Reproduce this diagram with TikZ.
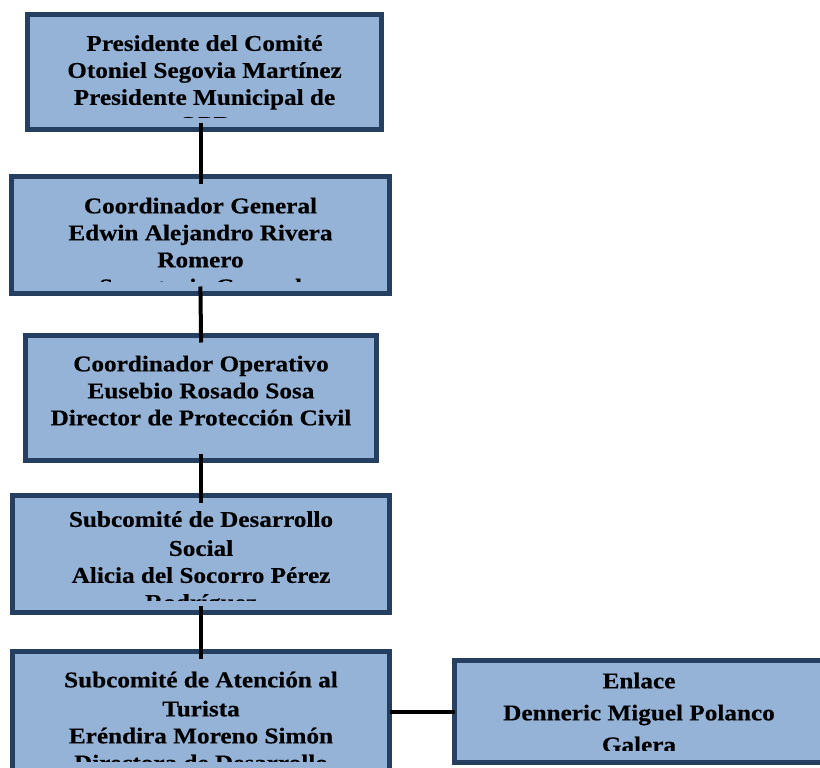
\documentclass[tikz,border=0pt]{standalone}
\usepackage{fontspec}
\setmainfont{Liberation Serif}[FakeStretch=1.12, BoldFeatures={FakeBold=0.4}]
\usepackage{xcolor}
\usetikzlibrary{calc}
\definecolor{boxfill}{HTML}{95B3D7}
\definecolor{boxline}{HTML}{243F60}
\newcommand{\boxfont}{\bfseries\fontsize{22.5}{27}\selectfont}
% clip to the inner margin of a box
\newcommand{\boxclip}[1]{%
  \clip ([xshift=4pt,yshift=12pt]#1.south west)
    rectangle ([xshift=-4pt,yshift=-4pt]#1.north east);}

\begin{document}
\begin{tikzpicture}[x=1pt, y=-1pt,
  unit/.style={rectangle, draw=boxline, line width=5pt, fill=boxfill,
               outer sep=0pt, inner sep=0pt},
  unittext/.style={anchor=north, inner sep=0pt, align=center, font=\boxfont},
  link/.style={line width=4pt, shorten <=-7pt, shorten >=-7pt},
  side/.style={line width=4pt}
]
\useasboundingbox (0,0) rectangle (820,768);

% Level 1: committee president
\node[unit, minimum width=354pt, minimum height=115pt] (pres) at (204.5,72) {};
\begin{scope}
  \boxclip{pres}
  \node[unittext] (pres-t) at ([yshift=-20.5pt]pres.north)
    {Presidente del Comité\\Otoniel Segovia Martínez\\Presidente Municipal de\\OPB};
\end{scope}

% Level 2: general coordination
\node[unit, minimum width=378pt, minimum height=117pt] (coordg) at (200.5,235) {};
\begin{scope}
  \boxclip{coordg}
  \node[unittext] (coordg-t) at ([yshift=-21pt]coordg.north)
    {Coordinador General\\Edwin Alejandro Rivera\\Romero\\Secretario General};
\end{scope}

% Level 3: operative coordination
\node[unit, minimum width=351pt, minimum height=125pt] (coordop) at (201,398) {};
\begin{scope}
  \boxclip{coordop}
  \node[unittext] (coordop-t) at ([yshift=-20pt]coordop.north)
    {Coordinador Operativo\\Eusebio Rosado Sosa\\Director de Protección Civil};
\end{scope}

% Level 4: subcommittees
\node[unit, minimum width=377pt, minimum height=117pt] (subdes) at (201,554) {};
\begin{scope}
  \boxclip{subdes}
  \node[unittext] (subdes-t) at ([yshift=-15.5pt]subdes.north)
    {Subcomité de Desarrollo\\[2pt]Social\\Alicia del Socorro Pérez\\Rodríguez};
\end{scope}

\node[unit, minimum width=377pt, minimum height=121.5pt] (subtur) at (201,712.25) {};
\begin{scope}
  \boxclip{subtur}
  \node[unittext] (subtur-t) at ([yshift=-20pt]subtur.north)
    {Subcomité de Atención al\\[2pt]Turista\\Eréndira Moreno Simón\\Directora de Desarrollo};
\end{scope}

% Link
\node[unit, minimum width=369pt, minimum height=102pt] (enlace) at (639,711.5) {};
\begin{scope}
  \boxclip{enlace}
  \node[unittext] (enlace-t) at ([yshift=-12pt]enlace.north)
    {Enlace\\[5pt]Denneric Miguel Polanco\\[5pt]Galera};
\end{scope}

% Lines - main chain
\draw[link] (pres.south -| coordg.north) -- (coordg.north);
\draw[link] (coordg.south) -- (coordop.north);
\draw[link] (coordop.south) -- (subdes.north);
\draw[link] (subdes.south) -- (subtur.north);
\draw[side] (subtur.east |- enlace.west) -- (enlace.west);

\end{tikzpicture}
\end{document}
